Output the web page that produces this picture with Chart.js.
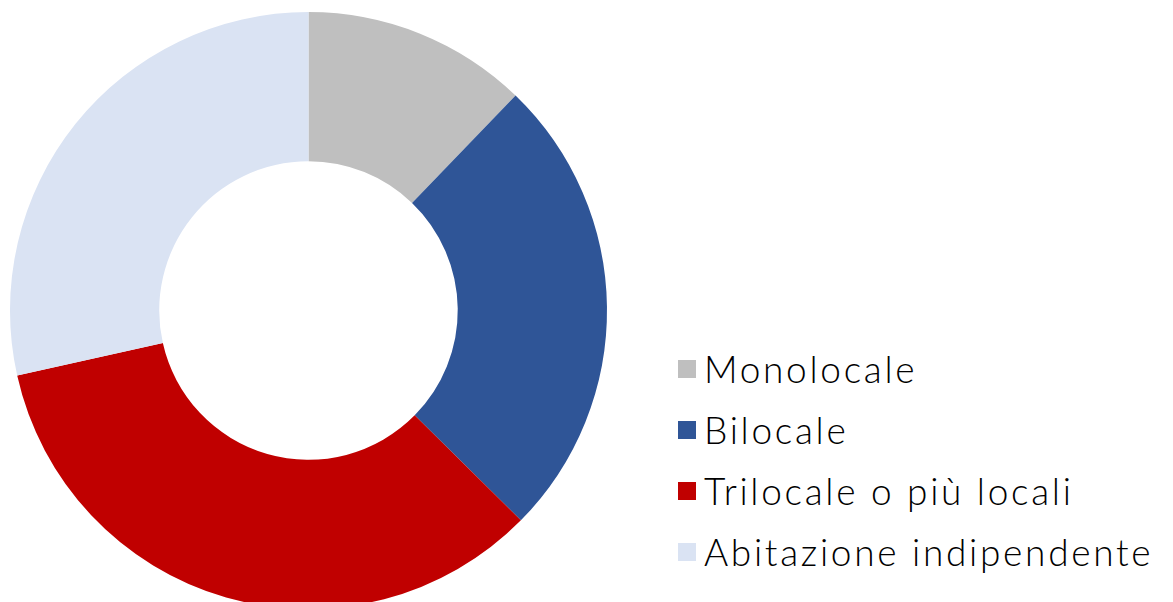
<!DOCTYPE html>
<html>
<head>
<meta charset="utf-8">
<script src="https://cdn.jsdelivr.net/npm/chart.js@4/dist/chart.umd.min.js"></script>
<style>
  html, body { margin: 0; padding: 0; background: #fff; overflow: hidden; width: 1173px; height: 602px; }
  #wrap { position: absolute; left: 0; top: 0; width: 617px; height: 621px; }
  #legend { position: absolute; left: 678px; top: 338px; font-family: Lato, sans-serif; font-weight: 300; font-size: 37px; letter-spacing: 2.7px; color: #000; white-space: nowrap; }
  .item { height: 61px; display: flex; align-items: center; }
  .box { width: 18px; height: 18px; margin-right: 8px; }
</style>
</head>
<body>
<div id="wrap"><canvas id="torta"></canvas></div>
<div id="legend"></div>
<script>
// categorie e valori (%)
const categorie = ['Monolocale', 'Bilocale', 'Trilocale o più locali', 'Abitazione indipendente'];
const valori = [12.2, 25.2, 34.1, 28.5];
const colori = ['#BFBFBF', '#2F5597', '#C00000', '#DAE3F3'];

const ctx = document.getElementById('torta').getContext('2d');

new Chart(ctx, {
  type: 'doughnut',
  data: {
    labels: categorie,
    datasets: [{
      data: valori,
      backgroundColor: colori,
      borderWidth: 0,
      hoverOffset: 0
    }]
  },
  options: {
    responsive: true,
    maintainAspectRatio: false,
    animation: false,
    cutout: '50%',
    layout: { padding: { left: 10, right: 10, top: 12, bottom: 12 } },
    plugins: {
      legend: { display: false },
      tooltip: { enabled: false }
    }
  }
});

// legenda a destra
const legenda = document.getElementById('legend');
categorie.forEach((nome, i) => {
  const riga = document.createElement('div');
  riga.className = 'item';
  const box = document.createElement('span');
  box.className = 'box';
  box.style.background = colori[i];
  const testo = document.createElement('span');
  testo.textContent = nome;
  riga.appendChild(box);
  riga.appendChild(testo);
  legenda.appendChild(riga);
});
</script>
</body>
</html>
